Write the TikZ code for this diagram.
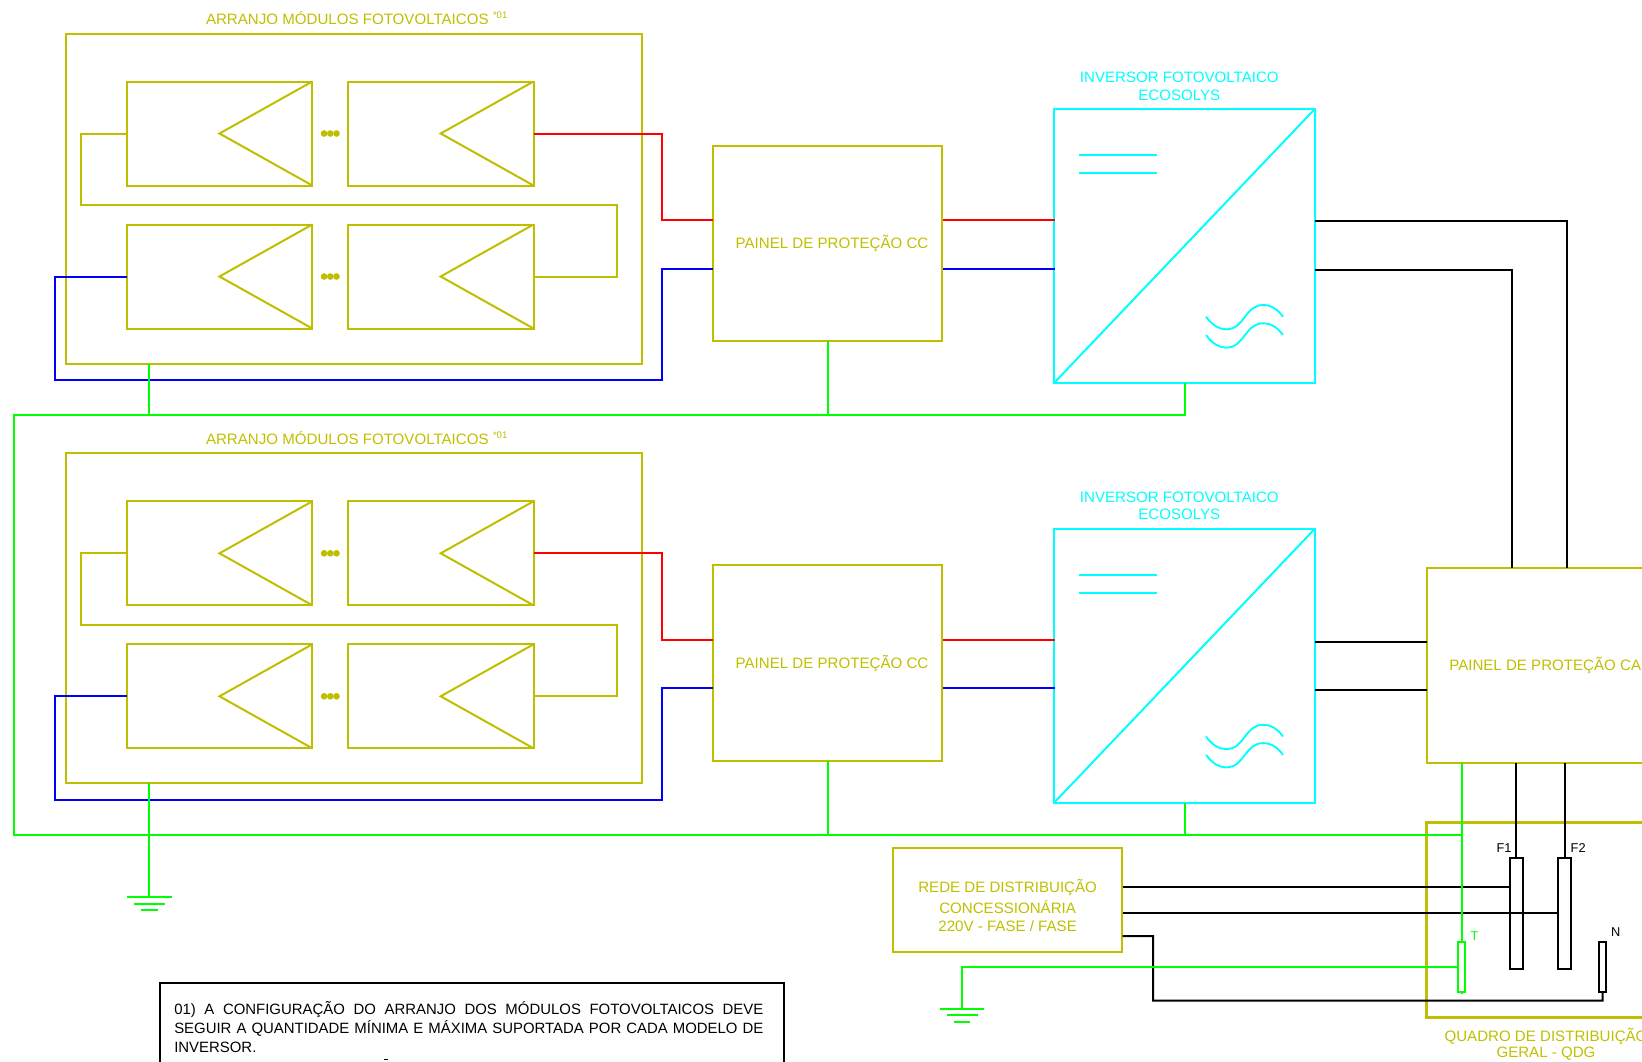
\documentclass[tikz,border=0pt]{standalone}
\usepackage{fontspec}
\setmainfont{Liberation Sans}
\usetikzlibrary{calc}
\definecolor{oliv}{RGB}{191,191,0}
\definecolor{cyn}{RGB}{0,255,255}
\definecolor{grn}{RGB}{0,255,0}
\definecolor{blk}{RGB}{0,0,0}
\tikzset{
  boxo/.style={draw=oliv,line width=1.5pt,inner sep=0pt,outer sep=0pt,rectangle,anchor=north west},
  boxc/.style={draw=cyn,line width=1.5pt,inner sep=0pt,outer sep=0pt,rectangle,anchor=north west},
  boxk/.style={draw=blk,line width=1.5pt,inner sep=0pt,outer sep=0pt,rectangle,anchor=north west,fill=white},
  modbox/.style={boxo,minimum width=139.2pt,minimum height=78pt},
  wo/.style={draw=oliv,line width=1.5pt},
  wc/.style={draw=cyn,line width=1.5pt},
  wr/.style={draw=red,line width=1.5pt},
  wb/.style={draw=blue,line width=1.5pt},
  wg/.style={draw=grn,line width=1.5pt},
  wk/.style={draw=blk,line width=1.5pt},
  lbl/.style={inner sep=0pt,outer sep=0pt,font=\fontsize{11.32pt}{14pt}\selectfont},
  lblo/.style={lbl,text=oliv},
  lblc/.style={lbl,text=cyn},
  lbls/.style={inner sep=0pt,outer sep=0pt,font=\fontsize{9.6pt}{11pt}\selectfont},
}
\begin{document}
\begin{tikzpicture}[x=0.75pt,y=-0.75pt,line join=miter]
\useasboundingbox (0,0) rectangle (1642,1061);
\begin{scope}
\clip (0,0) rectangle (1642,1061);
% two repeated rows
\foreach \p/\dy in {a/0,b/419.8}{
 \begin{scope}[shift={(0,\dy)}]
  \node[lblo,anchor=west] (\p title) at (206,18.3) {ARRANJO MÓDULOS FOTOVOLTAICOS};
  \node[lblo,anchor=west,font=\fontsize{7.2pt}{8pt}\selectfont] (\p star) at (493,15.5) {*01};
  \node[boxo,minimum width=432pt,minimum height=247.5pt] (\p arr) at (66,33.5) {};
  \node[modbox] (\p m1) at (126.7,81.5) {};
  \node[modbox] (\p m2) at (347.9,81.5) {};
  \node[modbox] (\p m3) at (126.7,224.5) {};
  \node[modbox] (\p m4) at (347.9,224.5) {};
  \foreach \m in {m1,m2,m3,m4}{
    \draw[wo] (\p\m.north east) -- (\p\m.center) -- (\p\m.south east);
  }
  \foreach \m in {m1,m3}{
    \foreach \k in {0,6.2,12.4}{
      \fill[oliv] ($(\p\m.east)+(11.8+\k,0)$) circle (2.5pt);
    }
  }
  % loop between rows
  \coordinate (\p lA) at (80.6,205);
  \coordinate (\p lB) at (617,205);
  \draw[wo] (\p m1.west) -| (\p lA) -- (\p lB) |- (\p m4.east);
  % PV protection panel
  \node[boxo,minimum width=172.1pt,minimum height=146.9pt] (\p pan) at (713,145.6) {};
  \node[lblo] (\p pant) at (832,243.2) {PAINEL DE PROTEÇÃO CC};
  % inverter
  \node[boxc,minimum width=195.6pt,minimum height=205.5pt] (\p inv) at (1054.3,108.7) {};
  \node[lblc] (\p invt) at (1179.3,77.2) {INVERSOR FOTOVOLTAICO};
  \node[lblc] (\p invu) at (1179.3,94.8) {ECOSOLYS};
  \draw[wc] (\p inv.south west) -- (\p inv.north east);
  \draw[wc] (1079.3,155) -- (1156.7,155);
  \draw[wc] (1079.3,173) -- (1156.7,173);
  \foreach \w in {0,18.3}{
    \draw[wc,line width=1.4pt] (1206,316.7+\w) .. controls (1212,325+\w) and (1219,329.3+\w) .. (1226,329.3+\w)
      .. controls (1236,329.3+\w) and (1240,323+\w) .. (1245,316.7+\w)
      .. controls (1250,310+\w) and (1255,305+\w) .. (1263,305+\w)
      .. controls (1272,305+\w) and (1278,310+\w) .. (1283,316.7+\w);
  }
  % ports
  \coordinate (\p rc) at (661.8,133.5);
  \coordinate (\p pr) at (713,220);
  \coordinate (\p pb) at (713,268.5);
  \coordinate (\p ir) at (1054.5,220);
  \coordinate (\p ib) at (1054.5,268.5);
  \coordinate (\p pr2) at (942.5,220);
  \coordinate (\p pb2) at (942.5,268.5);
  \coordinate (\p bl) at (54.5,380);
  \coordinate (\p br) at (661.8,380);
  \draw[wr] (\p m2.east) -- (\p rc) |- (\p pr);
  \draw[wr] (\p pr2) -- (\p ir);
  \draw[wb] (\p m3.west) -| (\p bl) -- (\p br) |- (\p pb);
  \draw[wb] (\p pb2) -- (\p ib);
 \end{scope}
}
% AC panel and distribution board
\node[boxo,minimum width=225pt,minimum height=146.6pt] (ca) at (1426.5,567.6) {};
\node[lblo,anchor=west] (cat) at (1449.3,665) {PAINEL DE PROTEÇÃO CA};
\node[boxo,line width=1.8pt,minimum width=225pt,minimum height=146.3pt] (qdg) at (1426.5,822.3) {};
\node[lblo] (qdgt) at (1546,1036) {QUADRO DE DISTRIBUIÇÃO};
\node[lblo] (qdgu) at (1546,1054) {GERAL - QDG};
% grid supply
\node[boxo,minimum width=172.2pt,minimum height=77.8pt] (rede) at (892.5,847.8) {};
\node[lblo] (redea) at (1007.6,887) {REDE DE DISTRIBUIÇÃO};
\node[lblo] (redeb) at (1007.6,907) {CONCESSIONÁRIA};
\node[lblo] (redec) at (1007.6,925.7) {220V - FASE / FASE};
% terminals
\node[boxk,minimum width=9.5pt,minimum height=83.6pt] (f1) at (1510,857.7) {};
\node[boxk,minimum width=9.5pt,minimum height=83.6pt] (f2) at (1558.3,857.7) {};
\node[boxk,line width=1.3pt,minimum width=4.8pt,minimum height=37.8pt] (nn) at (1599.3,941.7) {};
\node[boxo,draw=grn,fill=white,line width=1.3pt,minimum width=5pt,minimum height=37.5pt] (tt) at (1458.3,941.7) {};
\node[lbls,anchor=east] (f1t) at (1511.5,847.8) {F1};
\node[lbls,anchor=west] (f2t) at (1570.7,847.8) {F2};
\node[lbls,anchor=west] (nt) at (1611,931.7) {N};
\node[lbls,anchor=west,text=grn] (tlab) at (1470.7,935.7) {T};
% black AC wiring
\coordinate (ca1) at (1566.6,567.6);
\coordinate (ca2) at (1512,567.6);
\coordinate (i1u) at (1315,221.3);
\coordinate (i1l) at (1315,270);
\coordinate (i2u) at (1315,642);
\coordinate (i2l) at (1315,690.3);
\coordinate (ca3) at (1426.5,642);
\coordinate (ca4) at (1426.5,690.3);
\draw[wk] (i1u) -| (ca1);
\draw[wk] (i1l) -| (ca2);
\draw[wk] (i2u) -- (ca3);
\draw[wk] (i2l) -- (ca4);
\draw[wk] (ca.south -| f1.north) -- (f1.north);
\draw[wk] (ca.south -| f2.north) -- (f2.north);
\coordinate (r1) at (1122.6,887);
\coordinate (r2) at (1122.6,913.3);
\coordinate (r3) at (1122.6,936);
\coordinate (n1) at (1153,1000.7);
\coordinate (n2) at (1602.5,1000.7);
\draw[wk] (r1) -- (r1 -| f1.west);
\draw[wk] (r2) -- (r2 -| f2.west);
\draw[wk] (r3) -| (n1) -- (n2) -- (nn.south);
% green earth
\coordinate (busA1) at (13.6,414.7);
\coordinate (busA2) at (13.6,834.6);
\coordinate (busB) at (1461.7,834.6);
\coordinate (gnd1) at (149,897.3);
\coordinate (gnd2) at (962.3,1009);
\coordinate (tin) at (962.3,966.7);
\draw[wg] (ainv.south) |- (busA1) -- (busA2) -- (busB);
\draw[wg] (aarr.south -| gnd1) -- (gnd1 |- busA1);
\draw[wg] (apan.south) -- (apan.south |- busA1);
\draw[wg] (bpan.south) -- (bpan.south |- busA2);
\draw[wg] (binv.south) -- (binv.south |- busA2);
\draw[wg] (barr.south -| gnd1) -- (gnd1);
\draw[wg] (ca.south -| tt.north) -- (tt.north);
\draw[wg] (tt.south) -- ++(0,2.5);
\draw[wg] (tt.west |- tin) -- (tin) -- (gnd2);
\draw[wg] (127.3,897.3) -- (171.7,897.3) (134,903.5) -- (165,903.5) (141.3,910) -- (157.7,910);
\draw[wg] (940,1009) -- (984.3,1009) (947,1015.2) -- (978,1015.2) (954,1021.8) -- (970.3,1021.8);
% note box
\coordinate (nb1) at (160,1075);
\coordinate (nb2) at (160,983.3);
\coordinate (nb3) at (784,983.3);
\coordinate (nb4) at (784,1075);
\draw[wk] (nb1) -- (nb2) -- (nb3) -- (nb4);
\node[anchor=north west,inner sep=0pt,text width=441.8pt,align=left,font=\fontsize{11.2pt}{14.1pt}\selectfont] (note) at (174,1001.5) {\spaceskip=0pt\xspaceskip=0pt\relax\makebox[441.8pt][s]{01) A CONFIGURAÇÃO DO ARRANJO DOS MÓDULOS FOTOVOLTAICOS DEVE}\\\makebox[441.8pt][s]{SEGUIR A QUANTIDADE MÍNIMA E MÁXIMA SUPORTADA POR CADA MODELO DE}\\INVERSOR.};
\draw[draw=blk,line width=0.6pt] (383.5,1059.6) -- (388,1059.6);
\end{scope}
\end{tikzpicture}
\end{document}
